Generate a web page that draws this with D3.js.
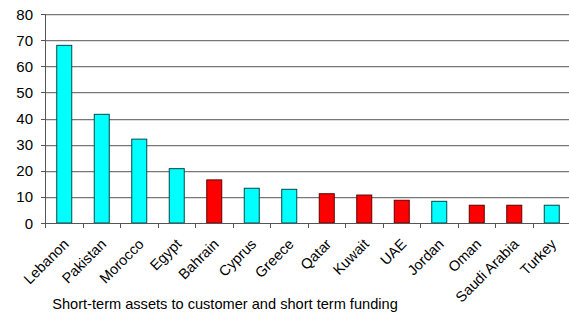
<!DOCTYPE html>
<html>
<meta charset="UTF-8">
<style>
body { margin: 0; background: #fff; }
text { font-family: "Liberation Sans", Arial, sans-serif; fill: #000; }
</style>
<body>
<div id="chart"></div>
<script src="https://d3js.org/d3.v7.min.js"></script>
<script>
// data
const countries = ["Lebanon", "Pakistan", "Morocco", "Egypt", "Bahrain", "Cyprus", "Greece",
  "Qatar", "Kuwait", "UAE", "Jordan", "Oman", "Saudi Arabia", "Turkey"];
const values = [68, 41.6, 32.1, 20.8, 16.5, 13.3, 12.9, 11.2, 10.7, 8.7, 8.3, 6.8, 6.8, 6.8];
const gcc = ["Bahrain", "Qatar", "Kuwait", "UAE", "Oman", "Saudi Arabia"];
const yTicks = [0, 10, 20, 30, 40, 50, 60, 70, 80];
const xTitle = "Short-term assets to customer and short term funding";

const W = 569, H = 314;
const m = {left: 45, right: 570, top: 14, bottom: 223};

const svg = d3.select("#chart").append("svg")
  .attr("width", W).attr("height", H);

const x = d3.scaleBand().domain(countries).range([m.left, m.right]).paddingInner(0.6).paddingOuter(0.3);
const xb = d3.scaleBand().domain(countries).range([m.left, m.right]);
const y = d3.scaleLinear().domain([0, 80]).range([m.bottom, m.top]);

// gridlines (dark line + light shadow under it)
svg.append("g").selectAll("line")
  .data(yTicks.filter(d => d > 0))
  .join("line")
  .attr("x1", m.left).attr("x2", W)
  .attr("y1", d => Math.round(y(d)) + 0.5).attr("y2", d => Math.round(y(d)) + 0.5)
  .attr("stroke", "#777").attr("stroke-width", 1);
svg.append("g").selectAll("line")
  .data(yTicks.filter(d => d > 0))
  .join("line")
  .attr("x1", m.left).attr("x2", W)
  .attr("y1", d => Math.round(y(d)) + 1.5).attr("y2", d => Math.round(y(d)) + 1.5)
  .attr("stroke", "#ddd").attr("stroke-width", 1);

// y axis
svg.append("line")
  .attr("x1", m.left + 0.5).attr("x2", m.left + 0.5)
  .attr("y1", m.top).attr("y2", m.bottom)
  .attr("stroke", "#555");
svg.append("g").selectAll("line")
  .data(yTicks).join("line")
  .attr("x1", m.left - 4).attr("x2", m.left)
  .attr("y1", d => Math.round(y(d)) + 0.5).attr("y2", d => Math.round(y(d)) + 0.5)
  .attr("stroke", "#555");
svg.append("g").selectAll("text")
  .data(yTicks).join("text")
  .attr("x", 33).attr("y", d => y(d) + 5.5)
  .attr("text-anchor", "end")
  .attr("font-size", 15)
  .text(d => d);

// bars
svg.append("g").selectAll("rect")
  .data(countries).join("rect")
  .attr("x", (d) => x(d) + 0.5)
  .attr("y", (d, i) => y(values[i]))
  .attr("width", x.bandwidth())
  .attr("height", (d, i) => m.bottom - y(values[i]))
  .attr("fill", d => gcc.includes(d) ? "#ff0000" : "#00ffff")
  .attr("stroke", d => gcc.includes(d) ? "#600000" : "#004a4a")
  .attr("stroke-width", 1);

// x axis
svg.append("line")
  .attr("x1", m.left).attr("x2", W)
  .attr("y1", m.bottom + 0.5).attr("y2", m.bottom + 0.5)
  .attr("stroke", "#555");
svg.append("g").selectAll("line")
  .data(countries.concat(["end"])).join("line")
  .attr("x1", (d, i) => Math.round(m.left + i * xb.bandwidth()) + 0.5)
  .attr("x2", (d, i) => Math.round(m.left + i * xb.bandwidth()) + 0.5)
  .attr("y1", m.bottom).attr("y2", m.bottom + 5)
  .attr("stroke", "#555");
svg.append("g").selectAll("text")
  .data(countries).join("text")
  .attr("text-anchor", "end")
  .attr("font-size", 14.5)
  .attr("transform", d => `translate(${xb(d) + xb.bandwidth() / 2 + 6},${m.bottom + 22}) rotate(-45)`)
  .text(d => d);

svg.append("text")
  .attr("x", 225).attr("y", 309)
  .attr("text-anchor", "middle")
  .attr("font-size", 14.6)
  .text(xTitle);
</script>
</body>
</html>
